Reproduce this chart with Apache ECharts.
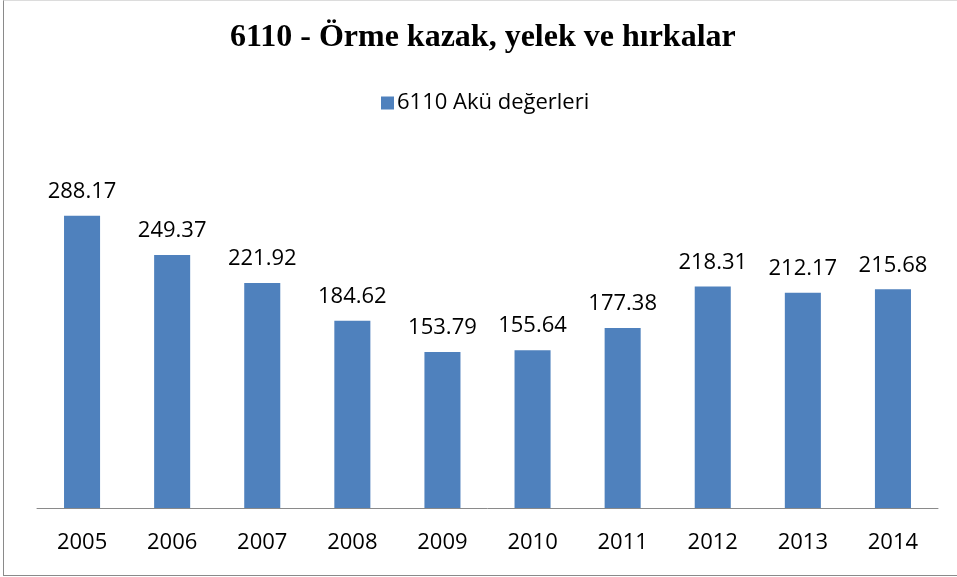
<!DOCTYPE html>
<html>
<head>
<meta charset="utf-8">
<style>
  html, body { margin: 0; padding: 0; background: #fff; }
  #frame {
    position: absolute; left: 3px; top: 0; width: 960px; height: 576px;
    border-left: 1px solid #8a8a8a; border-bottom: 1px solid #8a8a8a; border-top: 1px solid #dcdcdc;
    box-sizing: border-box;
  }
  #main { position: absolute; left: 0; top: 0; width: 957px; height: 577px; }
</style>
<script src="https://cdn.jsdelivr.net/npm/echarts@6/dist/echarts.min.js"></script>
</head>
<body>
<div id="frame"></div>
<div id="main"></div>
<script>
  // yıllar ve değerler
  var years = ['2005', '2006', '2007', '2008', '2009', '2010', '2011', '2012', '2013', '2014']
  var values = [288.17, 249.37, 221.92, 184.62, 153.79, 155.64, 177.38, 218.31, 212.17, 215.68]
  var seriesName = '6110 Akü değerleri'
  var titleText = '6110 - Örme kazak, yelek ve hırkalar'

  var chart = echarts.init(document.getElementById('main'))
  var option = {
    backgroundColor: 'transparent',
    animation: false,
    title: {
      text: titleText,
      left: 230,
      top: 22,
      padding: 0,
      textStyle: {
        fontFamily: 'Liberation Serif',
        fontWeight: 'bold',
        fontSize: 32,
        color: '#000'
      }
    },
    legend: {
      data: [seriesName],
      top: 87,
      left: 376,
      itemWidth: 13,
      itemHeight: 13,
      itemGap: 6,
      icon: 'rect',
      textStyle: {
        fontFamily: 'Open Sans',
        fontSize: 22,
        color: '#000',
        padding: [0, 0, 0, -2]
      }
    },
    grid: {
      left: 37,
      right: 19,
      top: 153,
      bottom: 69,
      containLabel: false
    },
    xAxis: {
      type: 'category',
      data: years,
      axisLine: { lineStyle: { color: '#8a8a8a', width: 1 } },
      axisTick: { show: false },
      axisLabel: {
        margin: 24,
        fontFamily: 'Open Sans',
        fontSize: 22,
        color: '#000'
      }
    },
    yAxis: {
      type: 'value',
      min: 0,
      max: 350,
      show: false,
      splitLine: { show: false }
    },
    series: [
      {
        name: seriesName,
        type: 'bar',
        data: values,
        barWidth: '40%',
        itemStyle: { color: '#4F81BD' },
        label: {
          show: true,
          position: 'top',
          distance: 13,
          fontFamily: 'Open Sans',
          fontSize: 22,
          color: '#000',
          formatter: function (p) { return p.value.toFixed(2) }
        }
      }
    ]
  }
  chart.setOption(option)
</script>
</body>
</html>
